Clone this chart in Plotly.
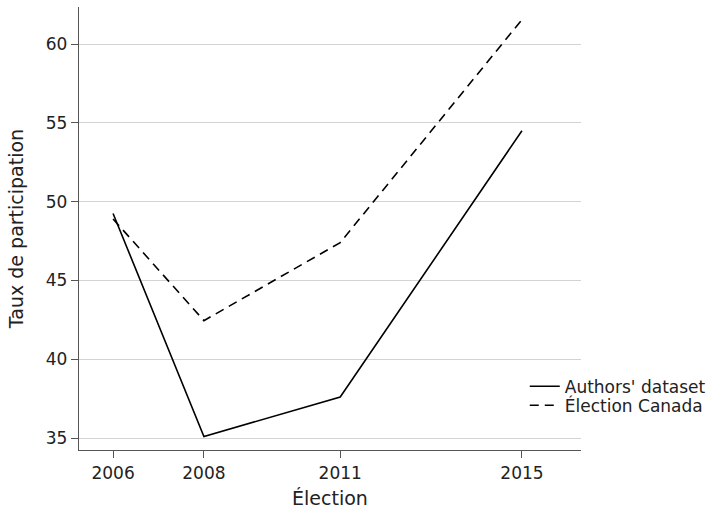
import plotly.graph_objects as go

years = [2006, 2008, 2011, 2015]
authors = [49.25, 35.1, 37.6, 54.5]
elections_canada = [48.9, 42.45, 47.4, 61.55]
x_ticks = [2006, 2008, 2011, 2015]
y_ticks = [35, 40, 45, 50, 55, 60]

FONT = "DejaVu Sans"
TXT = "#222"
AX = "#555"

fig = go.Figure()
fig.add_trace(go.Scatter(x=years, y=authors, mode="lines", name="Authors' dataset",
                         line=dict(color="black", width=1.6), legend="legend"))
fig.add_trace(go.Scatter(x=years, y=elections_canada, mode="lines", name="Élection Canada",
                         line=dict(color="black", width=1.6, dash="9px,6px"), legend="legend2"))

leg_common = dict(x=0.888, xanchor="left", yanchor="top", bgcolor="rgba(0,0,0,0)",
                  font=dict(family=FONT, size=17, color=TXT))

fig.update_layout(
    width=710, height=514,
    margin=dict(l=79, r=129, t=7, b=64, autoexpand=False),
    paper_bgcolor="white", plot_bgcolor="white",
    font=dict(family=FONT, size=17, color=TXT),
    showlegend=True,
    legend=dict(y=0.1835, **leg_common),
    legend2=dict(y=0.1406, **leg_common),
    xaxis=dict(range=[2005.25, 2016.3], tickvals=x_ticks, ticktext=[str(v) for v in x_ticks],
               showgrid=False, zeroline=False, showline=True, linecolor=AX, linewidth=1.3,
               ticks="outside", ticklen=7, tickcolor=AX, tickwidth=1.3, automargin=False,
               title=dict(text="Élection", font=dict(size=19, color=TXT), standoff=10)),
    yaxis=dict(range=[34.24, 62.35], tickvals=y_ticks, ticktext=[str(v) for v in y_ticks],
               showgrid=True, gridcolor="#d3d3d3", gridwidth=1.2, zeroline=False,
               showline=True, linecolor=AX, linewidth=1.3,
               ticks="outside", ticklen=7, tickcolor=AX, tickwidth=1.3, automargin=False,
               title=dict(text="Taux de participation", font=dict(size=19, color=TXT), standoff=17)),
)

fig.write_html("out.html", config={"displayModeBar": False},
               post_script="document.body.style.margin='0';document.body.style.padding='0';")
